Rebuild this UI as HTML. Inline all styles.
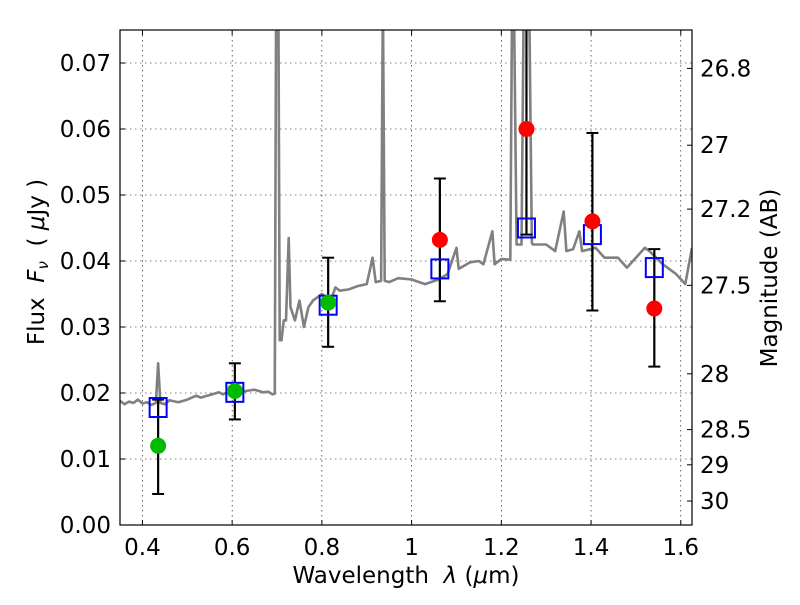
<!DOCTYPE html>
<html><head><meta charset="utf-8"><style>
body{margin:0;background:#fff}
svg text{font-family:"DejaVu Sans","Liberation Sans",sans-serif;font-size:23px;fill:#000}
</style></head><body>
<svg id="c" width="800" height="600" xmlns="http://www.w3.org/2000/svg"></svg>
<script>
const specWave=[0.35,0.36,0.37,0.38,0.39,0.40,0.41,0.42,0.43,0.435,0.44,0.45,0.46,0.48,0.5,0.52,0.53,0.55,0.57,0.58,0.6,0.62,0.63,0.65,0.67,0.68,0.69,0.695,0.698,0.703,0.706,0.71,0.715,0.72,0.726,0.73,0.74,0.75,0.76,0.77,0.78,0.8,0.82,0.83,0.84,0.86,0.88,0.9,0.913,0.92,0.932,0.936,0.94,0.95,0.97,1.0,1.03,1.06,1.08,1.1,1.105,1.13,1.15,1.16,1.18,1.185,1.2,1.22,1.224,1.228,1.234,1.245,1.25,1.262,1.268,1.27,1.3,1.32,1.339,1.345,1.36,1.374,1.38,1.41,1.43,1.46,1.48,1.5,1.52,1.53,1.56,1.59,1.61,1.625];
const specFlux=[0.0188,0.0183,0.0187,0.0185,0.019,0.0184,0.0186,0.0182,0.0185,0.0245,0.0185,0.0183,0.0189,0.0186,0.019,0.0196,0.0193,0.0197,0.0201,0.0198,0.0205,0.0201,0.0203,0.0205,0.0201,0.0202,0.0198,0.0199,0.08,0.08,0.028,0.028,0.031,0.031,0.0435,0.033,0.031,0.034,0.030,0.033,0.034,0.035,0.034,0.036,0.0355,0.0357,0.0362,0.0365,0.0405,0.0368,0.037,0.08,0.037,0.0368,0.0374,0.0372,0.0365,0.0372,0.038,0.042,0.0388,0.0398,0.040,0.0395,0.0445,0.0395,0.0403,0.0402,0.08,0.08,0.0425,0.0425,0.08,0.08,0.0428,0.0425,0.0425,0.0415,0.0475,0.0415,0.0418,0.0445,0.0415,0.042,0.0405,0.0405,0.039,0.0405,0.042,0.0415,0.0395,0.038,0.0365,0.042];
const obsWave=[0.435,0.606,0.814,1.063,1.256,1.403,1.541];
const obsFlux=[0.012,0.0203,0.0337,0.0432,0.060,0.046,0.0328];
const errLow=[0.0047,0.016,0.027,0.0339,0.044,0.0325,0.024];
const errHigh=[0.019,0.0245,0.0405,0.0525,0.08,0.0594,0.0418];
const obsColor=['#00bb00','#00bb00','#00bb00','#ff0000','#ff0000','#ff0000','#ff0000'];
const modelFlux=[0.0178,0.0201,0.0333,0.0388,0.045,0.044,0.039];
const xTicks=[0.4,0.6,0.8,1.0,1.2,1.4,1.6];
const xTickLabels=['0.4','0.6','0.8','1','1.2','1.4','1.6'];
const yTicks=[0,0.01,0.02,0.03,0.04,0.05,0.06,0.07];
const yTickLabels=['0.00','0.01','0.02','0.03','0.04','0.05','0.06','0.07'];
const magTicks=[26.8,27,27.2,27.5,28,28.5,29,30];
const magTickLabels=['26.8','27','27.2','27.5','28','28.5','29','30'];

const L=120,R=692,T=30,B=525,X0=0.35,X1=1.625,Y0=0,Y1=0.075;
const sx=v=>L+(v-X0)/(X1-X0)*(R-L);
const sy=v=>B-(v-Y0)/(Y1-Y0)*(B-T);
const magY=m=>sy(Math.pow(10,(23.9-m)/2.5));
const svg=document.getElementById('c');const NS='http://www.w3.org/2000/svg';
function mk(t,a,p){const e=document.createElementNS(NS,t);for(const k in a)e.setAttribute(k,a[k]);(p||svg).appendChild(e);return e;}
const defs=mk('defs',{});const cp=mk('clipPath',{id:'cl'},defs);mk('rect',{x:L,y:T,width:R-L,height:B-T},cp);
const grid=mk('g',{});


xTicks.forEach((v,i)=>{const x=sx(v);
mk('line',{x1:x,x2:x,y1:T,y2:B,stroke:'#000','stroke-width':0.6,'stroke-dasharray':'1.5,3.5'},grid);
mk('line',{x1:x,x2:x,y1:B,y2:B-5,stroke:'#000'});mk('line',{x1:x,x2:x,y1:T,y2:T+5,stroke:'#000'});
const t=mk('text',{x:x,y:B+30,'text-anchor':'middle'});t.textContent=xTickLabels[i];

});
yTicks.forEach((v,i)=>{const y=sy(v);
mk('line',{x1:L,x2:R,y1:y,y2:y,stroke:'#000','stroke-width':0.6,'stroke-dasharray':'1.5,3.5'},grid);
mk('line',{x1:L,x2:L+5,y1:y,y2:y,stroke:'#000'});
const t=mk('text',{x:L-9,y:y+8,'text-anchor':'end'});t.textContent=yTickLabels[i];

});
magTicks.forEach((m,i)=>{const y=magY(m);
mk('line',{x1:R,x2:R-5,y1:y,y2:y,stroke:'#000'});
const t=mk('text',{x:R+8,y:y+8,'text-anchor':'start'});t.textContent=magTickLabels[i];

});
const g=mk('g',{'clip-path':'url(#cl)'});
const pl=mk('polyline',{points:specWave.map((w,i)=>sx(w)+','+sy(specFlux[i])).join(' '),fill:'none',stroke:'#808080','stroke-width':2.6,'stroke-linejoin':'round'},g);


obsWave.forEach((w,i)=>{const x=sx(w);
const e=mk('g',{},g);


mk('line',{x1:x,x2:x,y1:sy(errLow[i]),y2:sy(errHigh[i]),stroke:'#000','stroke-width':2.2},e);
[errLow[i],errHigh[i]].forEach(v=>mk('line',{x1:x-6,x2:x+6,y1:sy(v),y2:sy(v),stroke:'#000','stroke-width':2},e));
const s=mk('rect',{x:x-8.5,y:sy(modelFlux[i])-9.5,width:17,height:19,fill:'none',stroke:'#0000ff','stroke-width':2},g);


const c=mk('circle',{cx:x,cy:sy(obsFlux[i]),r:8,fill:obsColor[i]},g);

});
const fr=mk('rect',{x:L,y:T,width:R-L,height:B-T,fill:'none',stroke:'#000','stroke-width':1.2});


const xl=mk('text',{x:406,y:583,'text-anchor':'middle'});xl.innerHTML='Wavelength &#160;<tspan font-style="italic">λ</tspan> (<tspan font-style="italic">μ</tspan>m)';


const yl=mk('text',{x:0,y:0,'text-anchor':'middle',transform:'translate(44,262) rotate(-90)'});yl.innerHTML='Flux &#160;<tspan font-style="italic">F</tspan><tspan font-style="italic" font-size="15" dy="4">ν</tspan><tspan dy="-4"> &#160;( </tspan><tspan font-style="italic">μ</tspan>Jy )';


const ml=mk('text',{x:0,y:0,'text-anchor':'middle',transform:'translate(777,278) rotate(-90)'});ml.textContent='Magnitude (AB)';


</script>
</body></html>
